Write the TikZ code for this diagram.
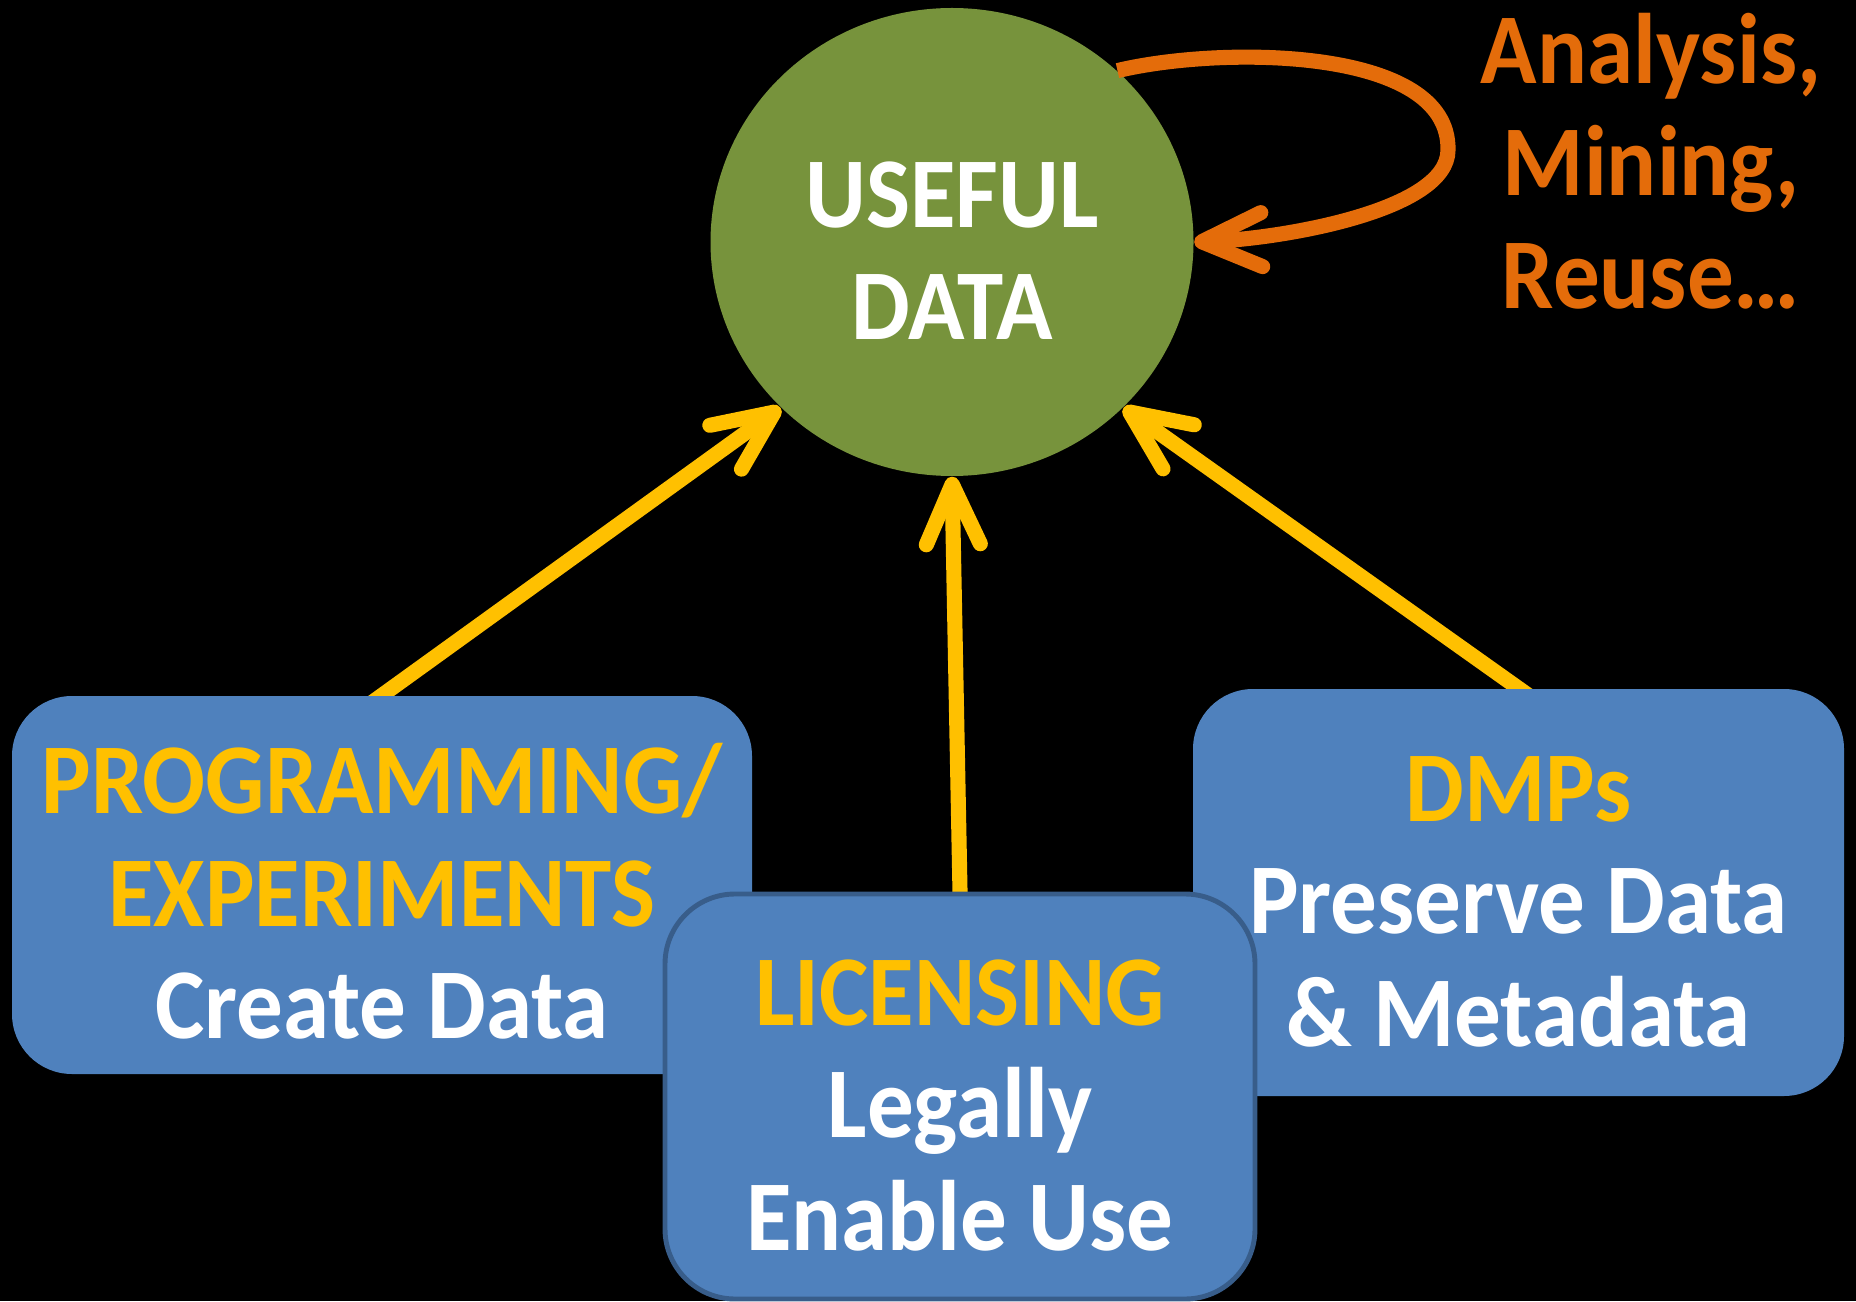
\documentclass[tikz,border=0pt]{standalone}
\usepackage{fontspec}
\setmainfont{Carlito}[FakeStretch=0.93]
\usetikzlibrary{arrows.meta,backgrounds,shapes.geometric}

\definecolor{boxblue}{HTML}{4F81BD}
\definecolor{boxedge}{HTML}{385D8A}
\definecolor{labelgold}{HTML}{FFC000}
\definecolor{hubgreen}{HTML}{77933C}
\definecolor{loopbrown}{HTML}{E46C0A}

% taller first line, so the text sits a little low in its shape
\newcommand{\capgap}{\rule{0pt}{0.83cm}}

\begin{document}
\begin{tikzpicture}
[font=\bfseries\fontsize{28.5}{32}\selectfont,
hub/.style={ellipse, fill=hubgreen, text=white, align=center, inner sep=0pt, minimum width=4.83cm, minimum height=4.68cm},
task/.style={rectangle, rounded corners=0.6cm, fill=boxblue, text=white, align=center, inner sep=0pt},
feed/.style={draw=labelgold, line width=4.3pt, -{Straight Barb[length=0.6cm, width=0.54cm, round]}},
reuse/.style={draw=loopbrown, line width=4.3pt, -{Straight Barb[length=0.6cm, width=0.54cm, round]}}]

\path[use as bounding box] (0,0) rectangle (18.56,13.01);

\node[hub] (data) at (9.52,10.59) {\capgap USEFUL\\DATA};

\node[task, minimum width=7.40cm, minimum height=3.78cm] (prog) at (3.82,4.16)
  {\capgap\textcolor{labelgold}{PROGRAMMING/}\\\textcolor{labelgold}{EXPERIMENTS}\\Create Data};
\node[task, minimum width=6.51cm, minimum height=4.07cm] (dmps) at (15.185,4.085)
  {\capgap\textcolor{labelgold}{DMPs}\\Preserve Data\\\& Metadata};
\node[task, draw=boxedge, line width=1.4pt, rounded corners=0.7cm, minimum width=5.90cm, minimum height=4.05cm] (lic) at (9.60,2.045)
  {\capgap\textcolor{labelgold}{LICENSING}\\Legally\\Enable Use};

\node[text=loopbrown, align=center] (uses) at (16.51,11.40) {Analysis,\\Mining,\\Reuse\ldots};

% arrows go under the boxes
\begin{scope}[on background layer]
\fill[black] (0,0) rectangle (18.56,13.01);
\draw[feed, shorten <=-0.2cm] (prog.north) -- (data.224);
\draw[feed, shorten <=-0.2cm] (lic.north) -- (data.south);
\draw[feed, shorten <=-0.2cm] (dmps.north) -- (data.316);
\end{scope}

\draw[reuse] (data.46) .. controls (12.2,12.55) and (14.5,12.55) .. (14.48,11.51)
  .. controls (14.48,10.9) and (12.8,10.62) .. (data.east);
\end{tikzpicture}
\end{document}
